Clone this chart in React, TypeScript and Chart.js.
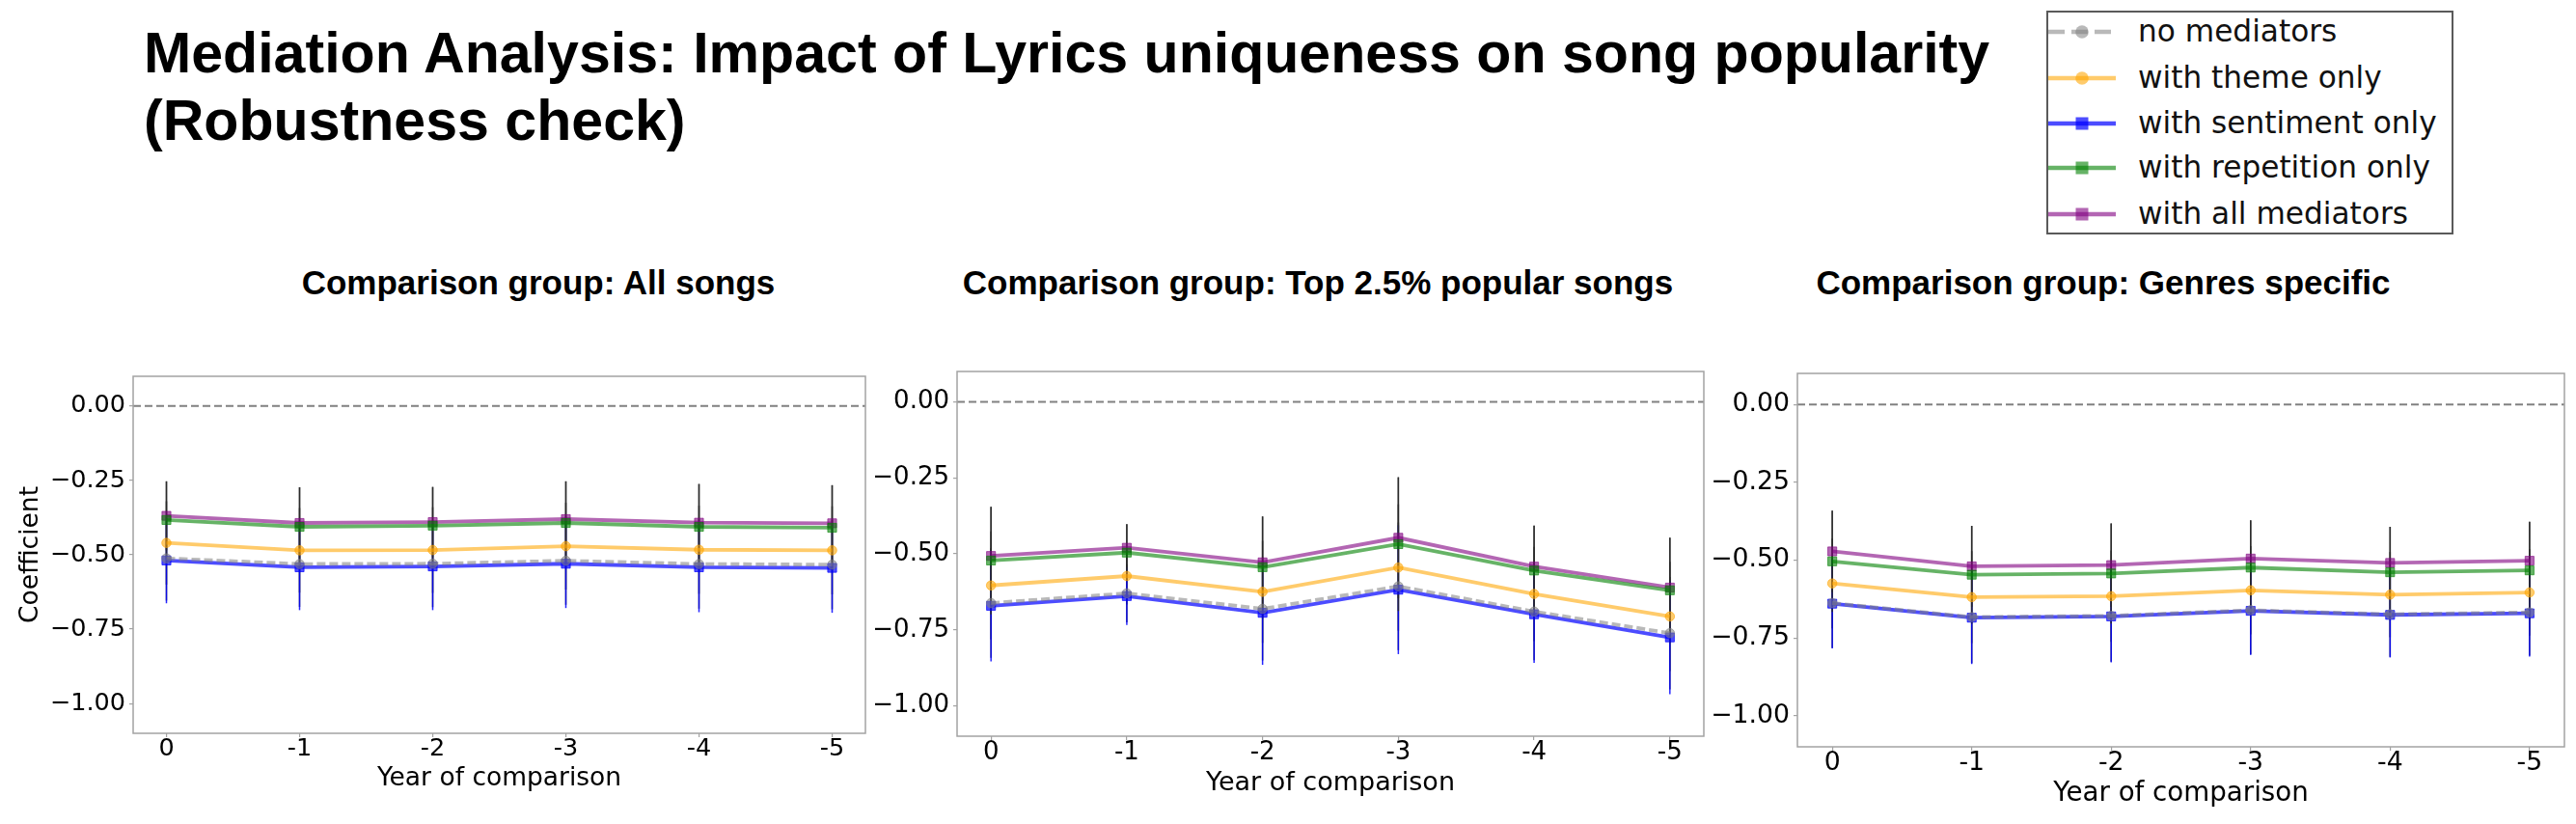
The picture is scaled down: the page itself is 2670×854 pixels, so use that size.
import React, { useEffect, useRef } from 'react';
import { Chart, registerables } from 'chart.js';

Chart.register(...registerables);

// ---------------- data ----------------
const xTickLabels = ['0', '-1', '-2', '-3', '-4', '-5'];
const yTickValues = [0, -0.25, -0.5, -0.75, -1.0];
const seriesNames = ['no mediators', 'with theme only', 'with sentiment only', 'with repetition only', 'with all mediators'];
const panelTitles = ['Comparison group: All songs', 'Comparison group: Top 2.5% popular songs', 'Comparison group: Genres specific'];
const mainTitle = ['Mediation Analysis: Impact of Lyrics uniqueness on song popularity', '(Robustness check)'];

// Panel 1: All songs (coefficients)
const allSongsNone = [-0.512, -0.531, -0.530, -0.520, -0.531, -0.533];
const allSongsTheme = [-0.460, -0.485, -0.484, -0.471, -0.483, -0.485];
const allSongsSentiment = [-0.519, -0.542, -0.539, -0.530, -0.542, -0.544];
const allSongsRepetition = [-0.383, -0.406, -0.402, -0.393, -0.406, -0.409];
const allSongsAll = [-0.369, -0.393, -0.390, -0.380, -0.392, -0.394];
// Panel 1 confidence half-widths
const allSongsNoneCi = [0.142, 0.144, 0.146, 0.148, 0.150, 0.150];
const allSongsThemeCi = [0.140, 0.142, 0.144, 0.146, 0.148, 0.148];
const allSongsSentimentCi = [0.144, 0.144, 0.147, 0.149, 0.151, 0.151];
const allSongsRepetitionCi = [0.130, 0.133, 0.130, 0.140, 0.144, 0.143];
const allSongsAllCi = [0.116, 0.120, 0.118, 0.127, 0.130, 0.128];

// Panel 2: Top 2.5% popular songs
const topSongsNone = [-0.662, -0.630, -0.681, -0.607, -0.690, -0.761];
const topSongsTheme = [-0.604, -0.573, -0.625, -0.545, -0.632, -0.706];
const topSongsSentiment = [-0.671, -0.639, -0.694, -0.618, -0.699, -0.775];
const topSongsRepetition = [-0.522, -0.496, -0.544, -0.468, -0.555, -0.620];
const topSongsAll = [-0.507, -0.480, -0.528, -0.447, -0.542, -0.611];
const topSongsNoneCi = [0.180, 0.095, 0.170, 0.210, 0.160, 0.185];
const topSongsThemeCi = [0.178, 0.094, 0.168, 0.208, 0.155, 0.180];
const topSongsSentimentCi = [0.183, 0.095, 0.171, 0.212, 0.160, 0.187];
const topSongsRepetitionCi = [0.177, 0.094, 0.167, 0.220, 0.148, 0.173];
const topSongsAllCi = [0.162, 0.078, 0.151, 0.199, 0.135, 0.164];

// Panel 3: Genres specific
const genreNone = [-0.638, -0.683, -0.679, -0.661, -0.674, -0.668];
const genreTheme = [-0.575, -0.619, -0.616, -0.597, -0.611, -0.604];
const genreSentiment = [-0.640, -0.685, -0.681, -0.663, -0.676, -0.671];
const genreRepetition = [-0.504, -0.547, -0.543, -0.524, -0.539, -0.533];
const genreAll = [-0.472, -0.520, -0.516, -0.495, -0.509, -0.502];
const genreNoneCi = [0.144, 0.148, 0.147, 0.142, 0.137, 0.139];
const genreThemeCi = [0.144, 0.148, 0.147, 0.142, 0.137, 0.139];
const genreSentimentCi = [0.144, 0.149, 0.148, 0.142, 0.137, 0.139];
const genreRepetitionCi = [0.163, 0.157, 0.161, 0.152, 0.146, 0.156];
const genreAllCi = [0.131, 0.130, 0.134, 0.123, 0.116, 0.125];

// ---------------- styles ----------------
const seriesRgb = ['128,128,128', '255,165,0', '0,0,255', '0,128,0', '128,0,128'];
const seriesAlphas = [0.55, 0.58, 0.7, 0.6, 0.6];
const seriesPointStyle = ['circle', 'circle', 'rect', 'rect', 'rect'];
const seriesPointRadius = [4.8, 4.8, 6.5, 6.5, 6.5];
const seriesDash: number[][] = [[9, 4], [], [], [], []];
const seriesErrColor = ['rgba(40,40,40,0.85)', 'rgba(40,40,40,0.85)', 'rgba(0,0,255,0.85)', 'rgba(40,40,40,0.85)', 'rgba(40,40,40,0.85)'];
const col = (i: number, a = seriesAlphas[i]) => `rgba(${seriesRgb[i]},${a})`;

const FRAME = '#a3a3a3';

type PanelCfg = {
  means: number[][];
  cis: number[][];
  canvasLeft: number;
  canvasTop: number;
  canvasWidth: number;
  canvasHeight: number;
  area: { left: number; right: number; top: number; bottom: number };
  tickSize: number;
  labelSize: number;
  xTitlePad: number;
  yTitle: boolean;
  yTitleCenter: number;
};

const panels: PanelCfg[] = [
  {
    means: [allSongsNone, allSongsTheme, allSongsSentiment, allSongsRepetition, allSongsAll],
    cis: [allSongsNoneCi, allSongsThemeCi, allSongsSentimentCi, allSongsRepetitionCi, allSongsAllCi],
    canvasLeft: 0, canvasTop: 340, canvasWidth: 915, canvasHeight: 500,
    area: { left: 138, right: 897, top: 390, bottom: 760 },
    tickSize: 25.5, labelSize: 26.5, xTitlePad: 17, yTitle: true, yTitleCenter: 32,
  },
  {
    means: [topSongsNone, topSongsTheme, topSongsSentiment, topSongsRepetition, topSongsAll],
    cis: [topSongsNoneCi, topSongsThemeCi, topSongsSentimentCi, topSongsRepetitionCi, topSongsAllCi],
    canvasLeft: 880, canvasTop: 340, canvasWidth: 900, canvasHeight: 503,
    area: { left: 992, right: 1766, top: 385, bottom: 763 },
    tickSize: 26, labelSize: 27, xTitlePad: 15, yTitle: false, yTitleCenter: 0,
  },
  {
    means: [genreNone, genreTheme, genreSentiment, genreRepetition, genreAll],
    cis: [genreNoneCi, genreThemeCi, genreSentimentCi, genreRepetitionCi, genreAllCi],
    canvasLeft: 1760, canvasTop: 340, canvasWidth: 910, canvasHeight: 514,
    area: { left: 1863, right: 2658, top: 387, bottom: 774 },
    tickSize: 26.7, labelSize: 27.7, xTitlePad: 14.5, yTitle: false, yTitleCenter: 0,
  },
];

const panelTitleCenters = [558, 1366, 2180];
const legendRowsY = [33, 81, 128, 174, 222];

// ---------------- plugins ----------------
const errorBarPlugin = {
  id: 'errorBars',
  beforeDatasetsDraw(chart: any) {
    const { ctx, scales } = chart;
    const xs = scales.x;
    const ys = scales.y;
    ctx.save();
    chart.data.datasets.forEach((ds: any) => {
      ctx.strokeStyle = ds.errorColor;
      ctx.lineWidth = 1.5;
      ds.data.forEach((p: any, i: number) => {
        const e = ds.errors[i];
        const px = xs.getPixelForValue(p.x);
        ctx.beginPath();
        ctx.moveTo(px, ys.getPixelForValue(p.y + e));
        ctx.lineTo(px, ys.getPixelForValue(p.y - e));
        ctx.stroke();
      });
    });
    ctx.restore();
  },
};

const zeroLinePlugin = {
  id: 'zeroLine',
  beforeDatasetsDraw(chart: any) {
    const { ctx, chartArea: a, scales } = chart;
    const py = scales.y.getPixelForValue(0);
    ctx.save();
    ctx.strokeStyle = 'rgba(115,115,115,0.9)';
    ctx.lineWidth = 2;
    ctx.setLineDash([8, 4]);
    ctx.beginPath();
    ctx.moveTo(a.left, py);
    ctx.lineTo(a.right, py);
    ctx.stroke();
    ctx.restore();
  },
};

const framePlugin = {
  id: 'frame',
  afterDraw(chart: any) {
    const { ctx, chartArea: a } = chart;
    ctx.save();
    ctx.strokeStyle = FRAME;
    ctx.lineWidth = 1.5;
    ctx.strokeRect(a.left, a.top, a.right - a.left, a.bottom - a.top);
    ctx.restore();
  },
};

const fmtY = (v: number) => (Math.abs(v) < 1e-9 ? '0.00' : (v < 0 ? '\u2212' : '') + Math.abs(v).toFixed(2));

function PanelChart({ cfg }: { cfg: PanelCfg }) {
  const ref = useRef<HTMLCanvasElement>(null);
  useEffect(() => {
    const canvas = ref.current;
    if (!canvas) return;
    const a = cfg.area;
    const tickFont = { family: 'DejaVu Sans', size: cfg.tickSize, lineHeight: 1.0 };
    const labelFont = { family: 'DejaVu Sans', size: cfg.labelSize, lineHeight: 1.2 };
    const datasets = cfg.means.map((m, si) => ({
      label: seriesNames[si],
      data: m.map((v, i) => ({ x: i, y: v })),
      errors: cfg.cis[si],
      errorColor: seriesErrColor[si],
      borderColor: col(si),
      backgroundColor: col(si),
      borderWidth: 3.8,
      borderDash: seriesDash[si],
      pointStyle: seriesPointStyle[si],
      pointRadius: seriesPointRadius[si],
      pointBackgroundColor: col(si),
      pointBorderColor: col(si),
      pointBorderWidth: 1,
      tension: 0,
      fill: false,
    }));
    const chart = new Chart(canvas, {
      type: 'line',
      data: { datasets } as any,
      options: {
        animation: false,
        responsive: false,
        devicePixelRatio: 1,
        events: [],
        layout: {
          padding: {
            left: 0,
            top: a.top - cfg.canvasTop,
            right: cfg.canvasLeft + cfg.canvasWidth - a.right,
            bottom: 0,
          },
        },
        plugins: { legend: { display: false }, tooltip: { enabled: false }, title: { display: false } },
        scales: {
          x: {
            type: 'linear',
            bounds: 'data',
            min: -0.25,
            max: 5.25,
            afterBuildTicks: (s: any) => {
              s.ticks = xTickLabels.map((_, i) => ({ value: i }));
            },
            afterFit: (s: any) => {
              s.height = 80;
            },
            ticks: {
              autoSkip: false,
              maxRotation: 0,
              padding: 0,
              color: '#000',
              font: tickFont,
              callback: (_v: any, idx: number) => xTickLabels[idx],
            },
            grid: { drawOnChartArea: false, drawTicks: true, tickLength: 4, color: FRAME, lineWidth: 1.2 },
            border: { display: false },
            title: {
              display: true,
              text: 'Year of comparison',
              color: '#000',
              font: labelFont,
              padding: { top: 0, bottom: cfg.xTitlePad },
            },
          },
          y: {
            type: 'linear',
            bounds: 'data',
            min: -1.1,
            max: 0.1,
            afterBuildTicks: (s: any) => {
              s.ticks = yTickValues.map((v) => ({ value: v }));
            },
            afterFit: (s: any) => {
              s.width = a.left - cfg.canvasLeft;
            },
            ticks: {
              autoSkip: false,
              padding: 4,
              color: '#000',
              font: tickFont,
              callback: (v: any) => fmtY(Number(v)),
            },
            grid: { drawOnChartArea: false, drawTicks: true, tickLength: 4, color: FRAME, lineWidth: 1.2 },
            border: { display: false },
            title: {
              display: cfg.yTitle,
              text: 'Coefficient',
              color: '#000',
              font: labelFont,
              padding: { top: cfg.yTitleCenter - (cfg.labelSize * 1.2) / 2, bottom: 0 },
            },
          },
        },
      } as any,
      plugins: [errorBarPlugin, zeroLinePlugin, framePlugin],
    });
    return () => chart.destroy();
  }, [cfg]);
  return (
    <canvas
      ref={ref}
      width={cfg.canvasWidth}
      height={cfg.canvasHeight}
      style={{ position: 'absolute', left: cfg.canvasLeft, top: cfg.canvasTop, width: cfg.canvasWidth, height: cfg.canvasHeight }}
    />
  );
}

function Legend() {
  return (
    <>
      <div
        style={{
          position: 'absolute',
          left: 2121,
          top: 11,
          width: 422,
          height: 232,
          border: '2.5px solid #5a5a5a',
          boxSizing: 'border-box',
          background: '#fff',
        }}
      />
      <svg style={{ position: 'absolute', left: 2121, top: 0 }} width={80} height={254}>
        {seriesNames.map((_, i) => {
          const y = legendRowsY[i];
          const c = col(i);
          return (
            <g key={i}>
              <line x1={2} x2={72} y1={y} y2={y} stroke={c} strokeWidth={4.5} strokeDasharray={i === 0 ? '17 7' : undefined} />
              {seriesPointStyle[i] === 'circle' ? (
                <circle cx={37} cy={y} r={6.8} fill={c} />
              ) : (
                <rect x={30.5} y={y - 6.5} width={13} height={13} fill={c} />
              )}
            </g>
          );
        })}
      </svg>
      {seriesNames.map((n, i) => (
        <div
          key={n}
          style={{
            position: 'absolute',
            left: 2216,
            top: legendRowsY[i] - 16,
            fontFamily: 'DejaVu Sans',
            fontSize: 31.2,
            lineHeight: '31px',
            color: '#111',
            whiteSpace: 'nowrap',
          }}
        >
          {n}
        </div>
      ))}
    </>
  );
}

export default function App() {
  return (
    <div
      style={{
        position: 'absolute',
        left: 0,
        top: 0,
        width: 2670,
        height: 854,
        background: '#fff',
        overflow: 'hidden',
      }}
    >
      <div
        style={{
          position: 'absolute',
          left: 149,
          top: 20,
          fontFamily: '"Liberation Sans", Arial, sans-serif',
          fontWeight: 'bold',
          fontSize: 59.1,
          lineHeight: '70px',
          color: '#000',
          whiteSpace: 'nowrap',
        }}
      >
        {mainTitle[0]}
        <br />
        {mainTitle[1]}
      </div>
      {panelTitles.map((t, i) => (
        <div
          key={t}
          style={{
            position: 'absolute',
            left: panelTitleCenters[i] - 500,
            width: 1000,
            top: 275.4,
            textAlign: 'center',
            fontFamily: '"Liberation Sans", Arial, sans-serif',
            fontWeight: 'bold',
            fontSize: 35,
            lineHeight: '35px',
            color: '#000',
            whiteSpace: 'nowrap',
          }}
        >
          {t}
        </div>
      ))}
      {panels.map((p, i) => (
        <PanelChart key={i} cfg={p} />
      ))}
      <Legend />
    </div>
  );
}
